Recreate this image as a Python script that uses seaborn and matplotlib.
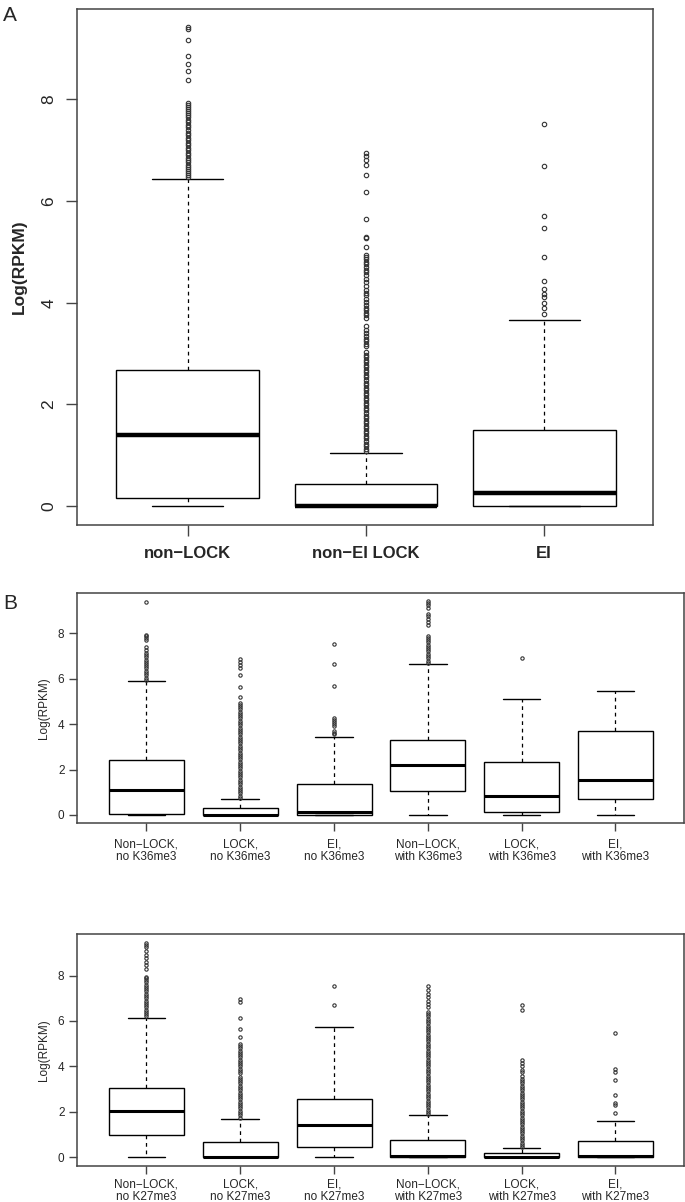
import numpy as np
import pandas as pd
import matplotlib.pyplot as plt
import seaborn as sns
from matplotlib import font_manager

sns.set_style("ticks")
installed = {f.name for f in font_manager.fontManager.ttflist}
narrow = "Liberation Sans Narrow" if "Liberation Sans Narrow" in installed else "Liberation Sans"
plt.rcParams["font.family"] = ["Liberation Sans", "DejaVu Sans"]

# ---------------- Panel A ----------------
a_labels = ["non\u2212LOCK", "non\u2212EI LOCK", "EI"]
a_low = [0.0, 0.0, 0.0]
a_q1 = [0.15, 0.0, 0.01]
a_med = [1.40, 0.0, 0.26]
a_q3 = [2.68, 0.43, 1.50]
a_high = [6.43, 1.05, 3.66]
a_out = [
    [6.48, 6.52, 6.56, 6.60, 6.64, 6.68, 6.72, 6.76, 6.80, 6.85, 6.90, 6.95,
     7.00, 7.05, 7.10, 7.15, 7.20, 7.25, 7.30, 7.35, 7.40, 7.45, 7.50, 7.55,
     7.60, 7.65, 7.70, 7.74, 7.78, 7.82, 7.86, 7.90, 7.93,
     8.39, 8.56, 8.69, 8.86, 9.18, 9.38, 9.42],
    [1.08, 1.13, 1.18, 1.23, 1.28, 1.33, 1.38, 1.43, 1.48, 1.53, 1.58, 1.63,
     1.68, 1.73, 1.78, 1.83, 1.88, 1.93, 1.98, 2.03, 2.08, 2.13, 2.18, 2.23,
     2.28, 2.33, 2.38, 2.43, 2.48, 2.53, 2.58, 2.63, 2.68, 2.73, 2.78, 2.83,
     2.88, 2.93, 2.98, 3.04,
     3.14, 3.19, 3.24, 3.29, 3.34, 3.40, 3.46, 3.54,
     3.70, 3.75, 3.80, 3.85, 3.90, 3.96, 4.02, 4.08, 4.15,
     4.19, 4.26, 4.33, 4.40, 4.47, 4.54, 4.60, 4.65,
     4.71, 4.76, 4.81, 4.86, 4.90, 4.94,
     5.10, 5.28, 5.30, 5.64, 6.17, 6.52, 6.71, 6.81, 6.88, 6.94],
    [3.77, 3.89, 4.00, 4.12, 4.17, 4.28, 4.43, 4.91, 5.48, 5.71, 6.69, 7.51],
]

# ---------------- Panel B (K36me3) ----------------
b1_labels = ["Non\u2212LOCK,\nno K36me3", "LOCK,\nno K36me3", "EI,\nno K36me3",
             "Non\u2212LOCK,\nwith K36me3", "LOCK,\nwith K36me3", "EI,\nwith K36me3"]
b1_low = [0.0, 0.0, 0.0, 0.0, 0.0, 0.0]
b1_q1 = [0.05, 0.0, 0.0, 1.05, 0.13, 0.72]
b1_med = [1.10, 0.0, 0.15, 2.18, 0.84, 1.52]
b1_q3 = [2.40, 0.29, 1.38, 3.29, 2.33, 3.68]
b1_high = [5.88, 0.71, 3.43, 6.63, 5.10, 5.48]
b1_out = [
    [5.95, 6.05, 6.15, 6.25, 6.35, 6.45, 6.55, 6.65, 6.75, 6.84, 6.95, 7.05,
     7.14, 7.28, 7.40, 7.72, 7.80, 7.87, 7.94, 9.36],
    [0.75, 0.85, 0.95, 1.05, 1.15, 1.25, 1.35, 1.45, 1.55, 1.65, 1.75, 1.85,
     1.95, 2.05, 2.15, 2.25, 2.35, 2.45, 2.55, 2.65, 2.75, 2.85, 2.95, 3.05,
     3.15, 3.25, 3.35, 3.45, 3.55, 3.65, 3.75, 3.85, 3.95, 4.05, 4.15, 4.25,
     4.35, 4.45, 4.55, 4.65, 4.75, 4.85, 4.95,
     5.20, 5.63, 6.18, 6.48, 6.62, 6.72, 6.85],
    [3.55, 3.62, 3.70, 3.90, 4.00, 4.10, 4.20, 4.28, 5.70, 6.65, 7.52],
    [6.70, 6.80, 6.90, 7.00, 7.10, 7.20, 7.30, 7.40, 7.50, 7.60, 7.70, 7.80,
     7.90, 8.35, 8.50, 8.62, 8.75, 8.85, 9.10, 9.25, 9.35, 9.42],
    [6.92],
    [],
]

# ---------------- Panel B (K27me3) ----------------
b2_labels = ["Non\u2212LOCK,\nno K27me3", "LOCK,\nno K27me3", "EI,\nno K27me3",
             "Non\u2212LOCK,\nwith K27me3", "LOCK,\nwith K27me3", "EI,\nwith K27me3"]
b2_low = [0.0, 0.0, 0.0, 0.0, 0.0, 0.0]
b2_q1 = [1.00, 0.0, 0.44, 0.0, 0.0, 0.0]
b2_med = [2.04, 0.0, 1.41, 0.07, 0.02, 0.07]
b2_q3 = [3.06, 0.68, 2.56, 0.75, 0.17, 0.70]
b2_high = [6.14, 1.67, 5.72, 1.85, 0.41, 1.62]
b2_out = [
    [6.20, 6.30, 6.40, 6.50, 6.60, 6.70, 6.80, 6.90, 7.00, 7.10, 7.20, 7.30,
     7.40, 7.50, 7.60, 7.70, 7.80, 7.90, 7.95,
     8.30, 8.45, 8.60, 8.75, 8.90, 9.10, 9.25, 9.35, 9.45],
    [1.75, 1.85, 1.95, 2.05, 2.15, 2.25, 2.35, 2.45, 2.55, 2.65, 2.75, 2.85,
     2.95, 3.05, 3.15, 3.25, 3.35, 3.45, 3.55,
     3.70, 3.80, 3.90, 4.00, 4.10, 4.20, 4.30, 4.40, 4.50, 4.60, 4.70, 4.80,
     4.90, 5.00, 5.30, 5.65, 6.15, 6.85, 6.95],
    [6.70, 7.52],
    [1.90, 2.00, 2.10, 2.20, 2.30, 2.40, 2.50, 2.60, 2.70, 2.80, 2.90, 3.00,
     3.10, 3.20, 3.30, 3.40, 3.50, 3.60, 3.70, 3.80, 3.90, 4.00, 4.10, 4.20,
     4.30, 4.40, 4.50, 4.60, 4.70, 4.80, 4.90, 5.00, 5.10, 5.20, 5.30, 5.40,
     5.50, 5.60, 5.70, 5.80, 5.90, 6.00, 6.10, 6.20, 6.30, 6.40,
     6.60, 6.75, 6.90, 7.05, 7.20, 7.35, 7.55],
    [0.45, 0.55, 0.65, 0.75, 0.85, 0.95, 1.05, 1.15, 1.25, 1.35, 1.45, 1.55,
     1.65, 1.75, 1.85, 1.95, 2.05, 2.15, 2.25, 2.35, 2.45, 2.55, 2.65, 2.75,
     2.85, 2.95, 3.05, 3.15, 3.25, 3.35, 3.45,
     3.60, 3.75, 3.85, 4.00, 4.15, 4.30, 6.50, 6.70],
    [1.93, 2.30, 2.40, 2.75, 3.40, 3.75, 3.90, 5.47],
]

BLOCK = 5000  # repeats of each summary value so the quartiles land on them


def build_frame(labels, low, q1, med, q3, high, outliers):
    parts = []
    for i, lab in enumerate(labels):
        vals = np.concatenate([
            np.repeat([low[i], q1[i], med[i], q3[i], high[i]], BLOCK),
            np.asarray(outliers[i], dtype=float),
        ])
        parts.append(pd.DataFrame({"group": lab, "value": vals}))
    return pd.concat(parts, ignore_index=True)


def draw_box(ax, df, labels, med_lw, flier_size):
    sns.boxplot(
        data=df, x="group", y="value", order=labels, ax=ax,
        color="white", linecolor="black", linewidth=1.0, width=0.8, whis=1.5,
        medianprops={"linewidth": med_lw, "color": "black"},
        whiskerprops={"linestyle": (0, (3, 3)), "linewidth": 0.9, "color": "black"},
        capprops={"linewidth": 1.0, "color": "black"},
        flierprops={"marker": "o", "markersize": flier_size,
                    "markerfacecolor": "none", "markeredgecolor": "#333333",
                    "markeredgewidth": 0.8},
    )
    ax.set_xlabel("")
    for s in ax.spines.values():
        s.set_visible(True)
        s.set_color("#444444")
        s.set_linewidth(1.1)
    ax.set_yticks([0, 2, 4, 6, 8])


fig = plt.figure(figsize=(6.85, 12.02), dpi=100)

# Panel A
axA = fig.add_axes([0.1124, 0.5632, 0.8409, 0.4293])
draw_box(axA, build_frame(a_labels, a_low, a_q1, a_med, a_q3, a_high, a_out),
         a_labels, 3.2, 3.2)
axA.set_xlim(-0.62, 2.61)
axA.set_ylim(-0.374, 9.78)
axA.tick_params(axis="both", length=8, width=1.0, color="#444444", labelsize=12.5)
axA.tick_params(axis="y", labelrotation=90, pad=7)
axA.tick_params(axis="x", pad=7)
for t in axA.get_yticklabels():
    t.set_va("center")
axA.set_xticks(range(3))
axA.set_xticklabels(a_labels, fontweight="bold", fontsize=12)
axA.set_ylabel("Log(RPKM)", fontsize=12.5, fontweight="bold", labelpad=10)

# Panel B, top
axB1 = fig.add_axes([0.1124, 0.3149, 0.8861, 0.1918])
draw_box(axB1, build_frame(b1_labels, b1_low, b1_q1, b1_med, b1_q3, b1_high, b1_out),
         b1_labels, 2.2, 2.4)
axB1.set_xlim(-0.74, 5.73)
axB1.set_ylim(-0.376, 9.776)

# Panel B, bottom
axB2 = fig.add_axes([0.1124, 0.0300, 0.8861, 0.1930])
draw_box(axB2, build_frame(b2_labels, b2_low, b2_q1, b2_med, b2_q3, b2_high, b2_out),
         b2_labels, 2.2, 2.4)
axB2.set_xlim(-0.74, 5.73)
axB2.set_ylim(-0.378, 9.83)

for ax, labels, xpad in [(axB1, b1_labels, 5), (axB2, b2_labels, 3)]:
    ax.tick_params(axis="both", length=6, width=1.0, color="#444444", labelsize=8.5)
    ax.tick_params(axis="y", pad=3)
    ax.tick_params(axis="x", pad=xpad)
    ax.set_xticks(range(6))
    ax.set_xticklabels(labels, fontsize=8.5, family=[narrow, "DejaVu Sans"],
                       linespacing=1.05)
    for t in ax.get_yticklabels():
        t.set_family([narrow, "DejaVu Sans"])
    ax.set_ylabel("Log(RPKM)", fontsize=8.5, family=[narrow, "DejaVu Sans"], labelpad=6)

fig.text(3 / 685, 1 - 21 / 1202, "A", fontsize=15, ha="left", va="baseline")
fig.text(3 / 685, 1 - 609 / 1202, "B", fontsize=15, ha="left", va="baseline")

fig.savefig("out.png", dpi=100)
